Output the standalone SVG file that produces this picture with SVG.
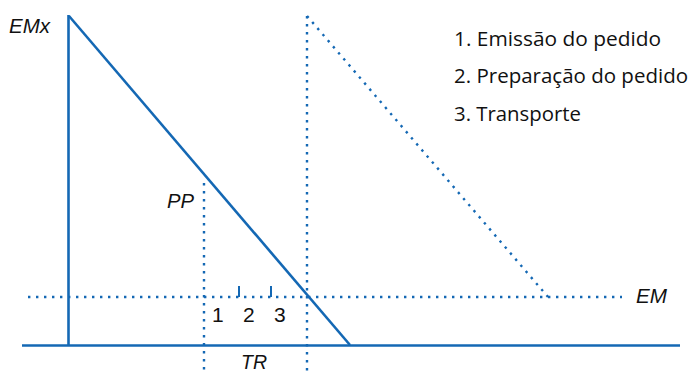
<svg xmlns="http://www.w3.org/2000/svg" width="690" height="372" viewBox="0 0 690 372">
<style>
.solid{stroke:#1468b4;stroke-width:2.6;fill:none}
.dot{stroke:#1468b4;stroke-width:2.4;fill:none;stroke-dasharray:2.4 5.6}
.tick{stroke:#1468b4;stroke-width:2;fill:none}
.lbl{font-family:"Liberation Sans",Arial,sans-serif;font-size:21px;fill:#111;font-style:italic}
.num{font-family:"Liberation Sans",Arial,sans-serif;font-size:21px;fill:#111}
.leg{font-family:"Open Sans","Liberation Sans",sans-serif;font-size:20px;fill:#111}
</style>
<rect width="690" height="372" fill="#fff"/>
<g id="connectors">
<line class="solid" x1="68.5" y1="15" x2="68.5" y2="345"/>
<line class="solid" x1="22" y1="345.5" x2="680" y2="345.5"/>
<line class="solid" x1="69" y1="16" x2="350" y2="345"/>
<line class="dot" x1="28" y1="297" x2="622" y2="297"/>
<line class="dot" x1="204" y1="183" x2="204" y2="372"/>
<line class="dot" x1="307" y1="16" x2="307" y2="372"/>
<line class="dot" x1="307" y1="16" x2="548" y2="297"/>
<line class="tick" x1="239" y1="286" x2="239" y2="297"/>
<line class="tick" x1="271" y1="286" x2="271" y2="297"/>
</g>
<g id="labels">
<text class="lbl" x="9" y="33" textLength="41" lengthAdjust="spacingAndGlyphs">EMx</text>
<text class="lbl" x="167" y="208" textLength="27" lengthAdjust="spacingAndGlyphs">PP</text>
<text class="lbl" x="241" y="369" textLength="26" lengthAdjust="spacingAndGlyphs">TR</text>
<text class="lbl" x="636" y="303" textLength="31" lengthAdjust="spacingAndGlyphs">EM</text>
<text class="num" x="212" y="322">1</text>
<text class="num" x="243" y="322">2</text>
<text class="num" x="274" y="322">3</text>
</g>
<g id="legend">
<text class="leg" x="454" y="46" textLength="207" lengthAdjust="spacingAndGlyphs">1. Emissão do pedido</text>
<text class="leg" x="454" y="83" textLength="234" lengthAdjust="spacingAndGlyphs">2. Preparação do pedido</text>
<text class="leg" x="454" y="121" textLength="127" lengthAdjust="spacingAndGlyphs">3. Transporte</text>
</g>
</svg>
